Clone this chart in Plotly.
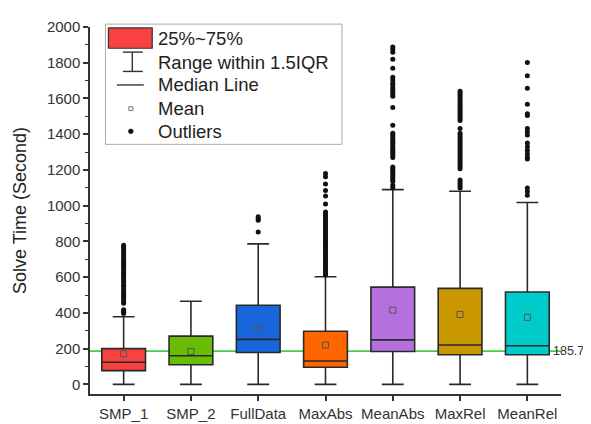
import plotly.graph_objects as go

categories = ["SMP_1", "SMP_2", "FullData", "MaxAbs", "MeanAbs", "MaxRel", "MeanRel"]
q1 = [77, 110, 178, 96, 184, 166, 166]
median = [124, 160, 252, 131, 249, 220, 216]
q3 = [200, 270, 443, 297, 544, 537, 517]
lowerfence = [0, 0, 0, 0, 0, 0, 0]
upperfence = [378, 465, 786, 602, 1090, 1081, 1018]
means = [171, 184, 312, 220, 415, 391, 375]
colors = ["#F84242", "#6ABD04", "#1866DC", "#FF6600", "#B470DC", "#C99700", "#00CCCC"]

outliers = [
    [396, 403, 411, 418, 454, 463, 475, 488, 497, 510, 521, 534, 546, 555, 568, 580, 591, 603,
     615, 626, 637, 650, 661, 672, 684, 695, 707, 718, 731, 742, 753, 766, 778],
    [],
    [853, 918, 928, 938],
    [612, 622, 633, 645, 656, 667, 680, 691, 702, 714, 726, 737, 748, 760, 772, 783, 795, 806,
     818, 829, 841, 852, 864, 875, 887, 898, 910, 921, 933, 944, 955, 965, 1009, 1054, 1085,
     1121, 1162, 1180],
    [1100, 1115, 1135, 1146, 1157, 1167, 1177, 1188, 1198, 1208, 1216, 1270, 1282, 1294, 1305,
     1315, 1326, 1337, 1349, 1360, 1372, 1384, 1395, 1405, 1450, 1550, 1613, 1625, 1636, 1647,
     1658, 1672, 1685, 1703, 1719, 1769, 1820, 1859, 1874, 1888],
    [1099, 1110, 1122, 1133, 1144, 1207, 1218, 1229, 1240, 1251, 1262, 1273, 1284, 1295, 1306,
     1317, 1328, 1340, 1351, 1362, 1373, 1384, 1395, 1405, 1432, 1477, 1488, 1499, 1510, 1521,
     1532, 1543, 1554, 1565, 1576, 1587, 1598, 1609, 1620, 1630, 1640],
    [1059, 1080, 1099, 1261, 1272, 1290, 1310, 1330, 1351, 1396, 1414, 1432, 1504, 1515, 1568,
     1657, 1727, 1802],
]
ref_value = 185.7
y_ticks = [0, 200, 400, 600, 800, 1000, 1200, 1400, 1600, 1800, 2000]

legend_labels = ["25%~75%", "Range within 1.5IQR", "Median Line", "Mean", "Outliers"]

FONT = "Arial, Liberation Sans, sans-serif"
W, H = 591, 424
ML, MR, MT, MB = 80, 38, 10, 34
PW, PH = W - ML - MR, H - MT - MB


def px(x):
    return (x - ML) / PW


def py(y):
    return (H - MB - y) / PH


fig = go.Figure()

for i, cat in enumerate(categories):
    fig.add_trace(go.Box(
        x=[i], q1=[q1[i]], median=[median[i]], q3=[q3[i]],
        lowerfence=[lowerfence[i]], upperfence=[upperfence[i]],
        width=0.65, whiskerwidth=0.5, boxpoints=False,
        fillcolor=colors[i], line=dict(color="#2a2a2a", width=1.6),
        showlegend=False, name=cat,
    ))

for i, cat in enumerate(categories):
    if outliers[i]:
        fig.add_trace(go.Scatter(
            x=[i] * len(outliers[i]), y=outliers[i], mode="markers",
            marker=dict(symbol="circle", size=5, color="#111111"),
            showlegend=False, hoverinfo="y",
        ))

fig.add_trace(go.Scatter(
    x=list(range(len(categories))), y=means, mode="markers",
    marker=dict(symbol="square-open", size=6, color="#555555", line=dict(width=1)),
    showlegend=False,
))

shapes = [
    dict(type="line", xref="paper", yref="y", x0=0, x1=1, y0=ref_value, y1=ref_value,
         line=dict(color="#4CC84C", width=1.6), layer="below"),
    # legend frame
    dict(type="rect", xref="paper", yref="paper", x0=px(95.5), x1=px(333), y0=py(7), y1=py(131.5),
         line=dict(color="#AAAAAA", width=1), fillcolor="white"),
    dict(type="rect", xref="paper", yref="paper", x0=px(98.5), x1=px(142.5), y0=py(11), y1=py(32),
         line=dict(color="#333333", width=1.2), fillcolor=colors[0]),
    dict(type="line", xref="paper", yref="paper", x0=px(122.5), x1=px(122.5), y0=py(36), y1=py(56),
         line=dict(color="#333333", width=1.4)),
    dict(type="line", xref="paper", yref="paper", x0=px(113), x1=px(133), y0=py(36), y1=py(36),
         line=dict(color="#333333", width=1.4)),
    dict(type="line", xref="paper", yref="paper", x0=px(113), x1=px(133), y0=py(56), y1=py(56),
         line=dict(color="#333333", width=1.4)),
    dict(type="line", xref="paper", yref="paper", x0=px(107), x1=px(134), y0=py(70), y1=py(70),
         line=dict(color="#333333", width=1.4)),
    dict(type="rect", xref="paper", yref="paper", x0=px(119), x1=px(123), y0=py(92.5), y1=py(96.5),
         line=dict(color="#777777", width=1), fillcolor="white"),
    dict(type="circle", xref="paper", yref="paper", x0=px(118.5), x1=px(123.5), y0=py(115.5), y1=py(120.5),
         line=dict(color="#111111", width=0.5), fillcolor="#111111"),
]

annotations = [
    dict(xref="paper", yref="y", x=1, y=ref_value, text="185.7", showarrow=False,
         xanchor="left", yanchor="middle", xshift=-10, font=dict(family=FONT, size=12.5, color="#333333")),
]
for lbl, yy in zip(legend_labels, [21.5, 46.5, 70, 94.5, 118]):
    annotations.append(dict(xref="paper", yref="paper", x=px(146), y=py(yy), text=lbl,
                            showarrow=False, xanchor="left", yanchor="middle",
                            font=dict(family=FONT, size=18.5, color="#222222")))

fig.update_layout(
    width=W, height=H,
    margin=dict(l=ML, r=MR, t=MT, b=MB, pad=0),
    plot_bgcolor="white", paper_bgcolor="white",
    font=dict(family=FONT, size=15, color="#333333"),
    shapes=shapes, annotations=annotations,
    showlegend=False,
)
fig.update_xaxes(
    range=[-0.5, 6.5], tickmode="array", tickvals=list(range(len(categories))),
    ticktext=categories, showgrid=False, zeroline=False, showline=True,
    linecolor="#333333", linewidth=1.5, ticks="outside", ticklen=5, tickwidth=1.5,
    tickcolor="#333333", tickfont=dict(family=FONT, size=15, color="#333333"),
)
fig.update_yaxes(
    range=[-54, 2000], tickmode="array", tickvals=y_ticks, showgrid=False, zeroline=False,
    showline=True, linecolor="#333333", linewidth=1.5, ticks="outside", ticklen=5,
    tickwidth=1.5, tickcolor="#333333", tickfont=dict(family=FONT, size=15, color="#333333"),
    minor=dict(dtick=100, tick0=0, ticks="outside", ticklen=3, tickwidth=1.2, tickcolor="#333333"),
    title=dict(text="Solve Time (Second)", font=dict(family=FONT, size=18, color="#222222"), standoff=16),
)

fig.write_html("out.html")
